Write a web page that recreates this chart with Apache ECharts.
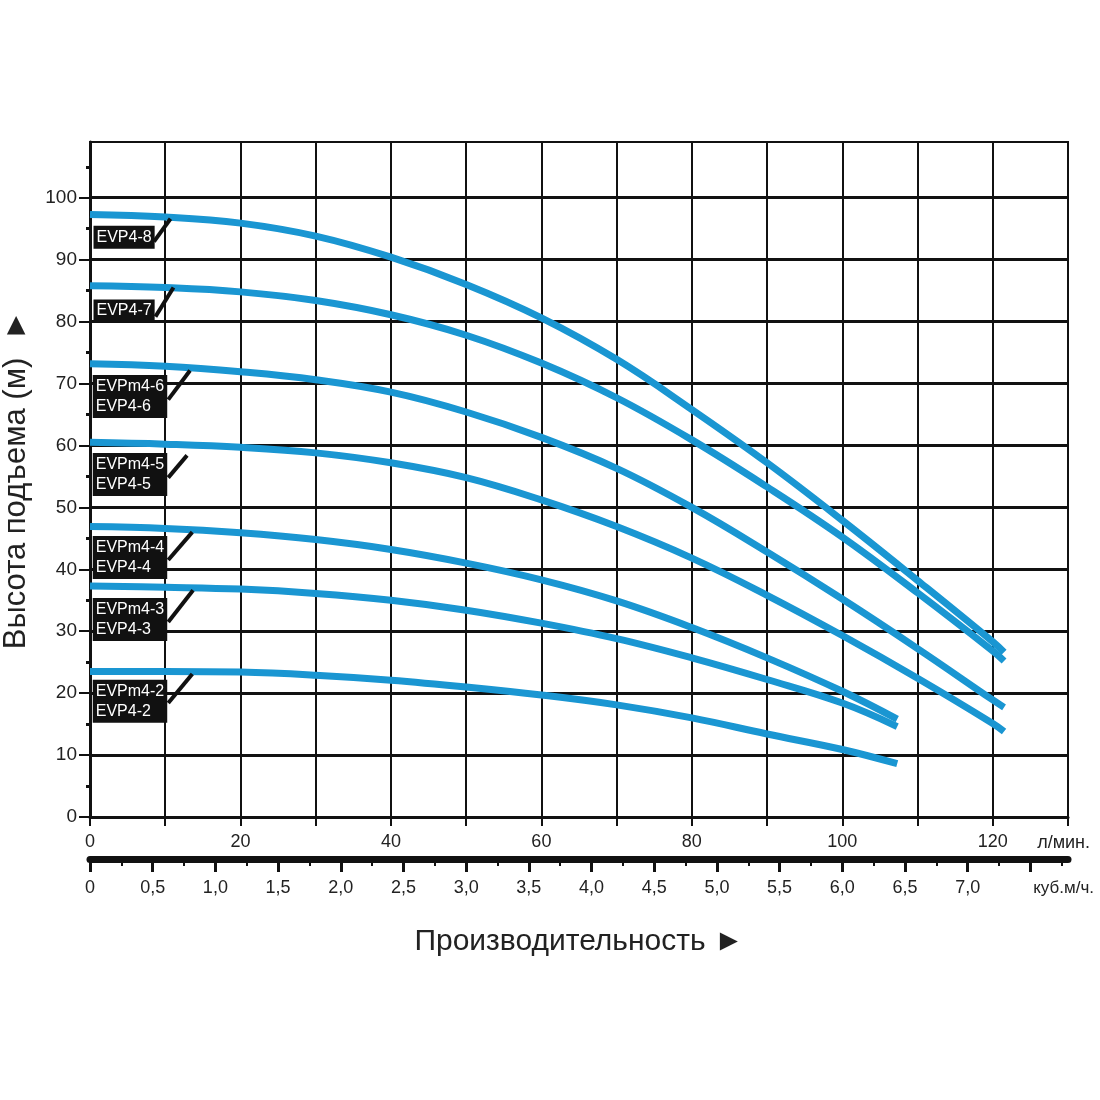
<!DOCTYPE html>
<html lang="ru">
<head>
<meta charset="utf-8">
<title>EVP4 — напорные характеристики</title>
<script src="https://cdn.jsdelivr.net/npm/echarts@6/dist/echarts.min.js"></script>
<style>
  html, body { margin: 0; padding: 0; background: #fff; }
  #chart { width: 1100px; height: 1100px; }
</style>
</head>
<body>
<div id="chart"></div>
<script>
/* ---- Data ---- */
// расход, л/мин
const FLOW_LONG  = [0, 10, 20, 30, 40, 50, 60, 70, 80, 90, 100, 110, 120, 121.5];
const FLOW_SHORT = [0, 10, 20, 30, 40, 50, 60, 70, 80, 90, 100, 107.3];

// напор, м
const HEAD_EVP4_8 = [97.3, 96.9, 95.9, 93.8, 90.4, 86.0, 80.6, 73.9, 65.8, 57.2, 47.9, 38.2, 28.3, 26.6];
const HEAD_EVP4_7 = [85.8, 85.5, 84.8, 83.4, 81.1, 77.8, 73.3, 67.7, 60.9, 53.3, 45.2, 36.2, 26.8, 25.2];
const HEAD_EVP4_6 = [73.2, 72.8, 71.9, 70.6, 68.6, 65.4, 61.3, 56.3, 50.0, 42.8, 35.2, 27.2, 18.9, 17.7];
const HEAD_EVP4_5 = [60.5, 60.2, 59.7, 58.8, 57.2, 54.8, 51.2, 46.9, 41.8, 35.8, 29.3, 22.4, 15.1, 13.8];
const HEAD_EVP4_4 = [46.9, 46.6, 45.9, 44.8, 43.2, 41.0, 38.3, 34.9, 30.6, 25.7, 20.3, 15.8];
const HEAD_EVP4_3 = [37.3, 37.1, 36.8, 36.1, 35.0, 33.4, 31.3, 28.8, 25.7, 22.2, 18.4, 14.6];
const HEAD_EVP4_2 = [23.5, 23.5, 23.4, 22.9, 22.1, 21.0, 19.7, 18.1, 16.0, 13.4, 10.9, 8.6];

const CURVE_TAGS = ["EVP4-8", "EVP4-7", "EVPm4-6\nEVP4-6", "EVPm4-5\nEVP4-5",
                    "EVPm4-4\nEVP4-4", "EVPm4-3\nEVP4-3", "EVPm4-2\nEVP4-2"];

// tick labels
const Y_TICKS   = [0, 10, 20, 30, 40, 50, 60, 70, 80, 90, 100];
const Y_MINOR   = [5, 15, 25, 35, 45, 55, 65, 75, 85, 95, 105];
const LPM_LABELS = [0, 20, 40, 60, 80, 100, 120];
const M3_TICKS  = [0, 0.5, 1, 1.5, 2, 2.5, 3, 3.5, 4, 4.5, 5, 5.5, 6, 6.5, 7, 7.5];
const M3_LABELS = [0, 0.5, 1, 1.5, 2, 2.5, 3, 3.5, 4, 4.5, 5, 5.5, 6, 6.5, 7];
const M3_MINOR  = [0.25, 0.75, 1.25, 1.75, 2.25, 2.75, 3.25, 3.75, 4.25, 4.75, 5.25, 5.75, 6.25, 6.75, 7.25, 7.75];

/* ---- Tag placement (data units, not data) ---- */
const TAG_AT = [[0.4, 93.6], [0.4, 81.7], [0.3, 67.9], [0.3, 55.3], [0.3, 41.9], [0.3, 31.9], [0.3, 18.7]];
const LEADERS = [
  [[8.5, 92.9], [10.7, 96.6]],
  [[8.7, 80.8], [11.1, 85.5]],
  [[10.4, 67.4], [13.3, 72.1]],
  [[10.4, 54.8], [12.9, 58.4]],
  [[10.4, 41.5], [13.6, 46.0]],
  [[10.4, 31.5], [13.7, 36.6]],
  [[10.4, 18.4], [13.6, 23.1]]
];

(function() {
  "use strict";

  const FONT = '"Liberation Sans", Arial, sans-serif';
  const INK = "#111";
  const TEXT = "#222";
  const BLUE = "#1a96d2";

  const curves = [
    [FLOW_LONG, HEAD_EVP4_8], [FLOW_LONG, HEAD_EVP4_7], [FLOW_LONG, HEAD_EVP4_6], [FLOW_LONG, HEAD_EVP4_5],
    [FLOW_SHORT, HEAD_EVP4_4], [FLOW_SHORT, HEAD_EVP4_3], [FLOW_SHORT, HEAD_EVP4_2]
  ];

  const zip = (xs, ys) => xs.map((x, i) => [x, ys[i]]);
  const comma = v => v === 0 ? "0" : v.toFixed(1).replace(".", ",");

  const series = curves.map(([fx, hy], i) => ({
    name: CURVE_TAGS[i],
    type: "line",
    xAxisIndex: 0, yAxisIndex: 0,
    data: zip(fx, hy),
    smooth: 0.4,
    showSymbol: false,
    silent: true,
    lineStyle: { color: BLUE, width: 7, cap: "butt" },
    z: 3,
    markLine: {
      silent: true, symbol: ["none", "none"],
      label: { show: false },
      lineStyle: { color: INK, width: 4, type: "solid" },
      emphasis: { disabled: true },
      data: [[{ coord: LEADERS[i][0] }, { coord: LEADERS[i][1] }]]
    },
    markPoint: {
      silent: true, symbol: "rect", symbolSize: 1,
      itemStyle: { color: "rgba(0,0,0,0)" },
      label: {
        show: true, position: "right", distance: 0,
        formatter: CURVE_TAGS[i],
        backgroundColor: INK, color: "#fff",
        fontFamily: FONT, fontSize: 16, lineHeight: 20,
        padding: [2, 3, 1, 3]
      },
      data: [{ coord: TAG_AT[i] }]
    }
  }));

  const chart = echarts.init(document.getElementById("chart"), null, { renderer: "canvas" });
  chart.setOption({
    animation: false,
    backgroundColor: "#fff",
    textStyle: { fontFamily: FONT },
    grid: {
      left: 90, right: 32, top: 142, bottom: 283,
      outerBoundsMode: "none", containLabel: false,
      show: true, borderColor: INK, borderWidth: 2
    },
    xAxis: [
      {
        type: "value", position: "bottom", min: 0, max: 130, interval: 10,
        axisLine: { show: true, onZero: false, lineStyle: { color: INK, width: 3 } },
        axisTick: { show: true, length: 9, lineStyle: { color: INK, width: 2 } },
        axisLabel: { customValues: LPM_LABELS, color: TEXT, fontSize: 18, margin: 16, fontFamily: FONT },
        splitLine: { show: true, lineStyle: { color: INK, width: 2 } },
        name: "л/мин.", nameLocation: "end", nameGap: 22,
        nameTextStyle: { color: TEXT, fontSize: 18, align: "right", verticalAlign: "top", padding: [17, 0, 0, 0], fontFamily: FONT }
      },
      {
        type: "value", position: "bottom", offset: 42, min: 0, max: 7.8, interval: 0.5,
        axisLine: { show: true, onZero: false, lineStyle: { color: INK, width: 7 } },
        axisTick: { show: true, customValues: M3_TICKS, length: 13, lineStyle: { color: INK, width: 3 } },
        axisLabel: { customValues: M3_LABELS, formatter: comma, color: TEXT, fontSize: 18, margin: 20, fontFamily: FONT },
        splitLine: { show: false },
        name: "куб.м/ч.", nameLocation: "end", nameGap: 26,
        nameTextStyle: { color: TEXT, fontSize: 17, align: "right", verticalAlign: "top", padding: [21, 0, 0, 0], fontFamily: FONT }
      },
      {
        type: "value", position: "bottom", offset: 42, min: 0, max: 7.8, interval: 0.5,
        axisLine: { show: true, onZero: false, lineStyle: { color: "rgba(0,0,0,0)", width: 1 } },
        axisTick: { show: true, customValues: M3_MINOR, length: 7, lineStyle: { color: INK, width: 2 } },
        axisLabel: { show: false },
        splitLine: { show: false },
        name: "Производительность ►", nameLocation: "middle", nameGap: 68,
        nameTextStyle: { color: TEXT, fontSize: 30, fontFamily: FONT }
      }
    ],
    yAxis: [
      {
        type: "value", position: "left", min: 0, max: 109, interval: 10,
        axisLine: { show: true, onZero: false, lineStyle: { color: INK, width: 3 } },
        axisTick: { show: true, customValues: Y_TICKS, length: 11, lineStyle: { color: INK, width: 2 } },
        axisLabel: { customValues: Y_TICKS, color: TEXT, fontSize: 19, margin: 13, fontFamily: FONT },
        splitLine: { show: true, lineStyle: { color: INK, width: 3 } },
        name: "Высота подъема (м)  ►", nameLocation: "middle", nameRotate: 90, nameGap: 58,
        nameTextStyle: { color: TEXT, fontSize: 31, fontFamily: FONT }
      },
      {
        type: "value", position: "left", min: 0, max: 109, interval: 10,
        axisLine: { show: true, onZero: false, lineStyle: { color: "rgba(0,0,0,0)", width: 1 } },
        axisTick: { show: true, customValues: Y_MINOR, length: 4, lineStyle: { color: INK, width: 3 } },
        axisLabel: { show: false },
        splitLine: { show: false }
      }
    ],
    series: series
  });
})();
</script>
</body>
</html>
